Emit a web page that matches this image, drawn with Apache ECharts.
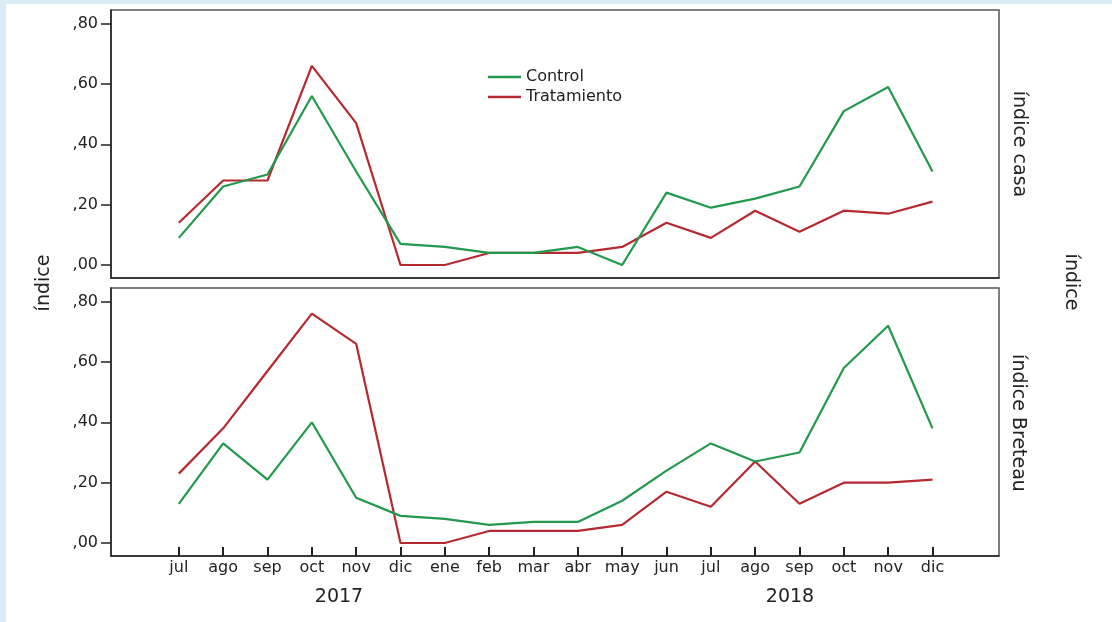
<!DOCTYPE html>
<html>
<head>
<meta charset="utf-8">
<script src="https://cdn.jsdelivr.net/npm/echarts@6/dist/echarts.min.js"></script>
<style>
  html, body { margin: 0; padding: 0; background: #ffffff; }
  #chart { width: 1112px; height: 622px; }
</style>
</head>
<body>
<div id="chart"></div>
<script>
// Months from July 2017 to December 2018
const categories = ['jul','ago','sep','oct','nov','dic','ene','feb','mar','abr','may','jun','jul','ago','sep','oct','nov','dic'];
const years = ['2017', '2018'];
const seriesNames = ['Control', 'Tratamiento'];

// índice casa
const casaControl     = [0.09,0.26,0.30,0.56,0.31,0.07,0.06,0.04,0.04,0.06,0.00,0.24,0.19,0.22,0.26,0.51,0.59,0.31];
const casaTratamiento = [0.14,0.28,0.28,0.66,0.47,0.00,0.00,0.04,0.04,0.04,0.06,0.14,0.09,0.18,0.11,0.18,0.17,0.21];

// índice Breteau
const breteauControl     = [0.13,0.33,0.21,0.40,0.15,0.09,0.08,0.06,0.07,0.07,0.14,0.24,0.33,0.27,0.30,0.58,0.72,0.38];
const breteauTratamiento = [0.23,0.38,0.57,0.76,0.66,0.00,0.00,0.04,0.04,0.04,0.06,0.17,0.12,0.27,0.13,0.20,0.20,0.21];

const yTickValues = [0, 0.2, 0.4, 0.6, 0.8];
const yTickLabels = [',00', ',20', ',40', ',60', ',80'];

const FONT = 'DejaVu Sans';
const GREEN = '#22994c';
const RED = '#b52a30';
const INK = '#222222';

const pairs = arr => arr.map((v, i) => [i, v]);
const xTickValues = categories.map((_, i) => i);

function xAxisFor(gridIndex, showLabels) {
  return {
    type: 'value', gridIndex, position: 'bottom', min: -1.53, max: 18.5,
    splitLine: { show: false },
    axisLine: { show: true, onZero: false, lineStyle: { color: INK, width: 1.5 } },
    axisTick: { show: showLabels, inside: true, length: 9, customValues: xTickValues,
                lineStyle: { color: INK, width: 2 } },
    axisLabel: { show: showLabels, customValues: xTickValues, margin: 4,
                 fontFamily: FONT, fontSize: 16, color: INK,
                 formatter: v => categories[Math.round(v)] }
  };
}

function yAxisFor(gridIndex) {
  return {
    type: 'value', gridIndex, position: 'left', min: -0.043, max: 0.845,
    splitLine: { show: false },
    axisLine: { show: true, onZero: false, lineStyle: { color: INK, width: 1.5 } },
    axisTick: { show: true, length: 10, customValues: yTickValues,
                lineStyle: { color: INK, width: 1.5 } },
    axisLabel: { customValues: yTickValues, margin: 13,
                 fontFamily: FONT, fontSize: 16, color: INK,
                 formatter: v => yTickLabels[yTickValues.findIndex(t => Math.abs(t - v) < 1e-6)] }
  };
}

function lineSeries(name, data, color, idx) {
  return {
    name, type: 'line', data: pairs(data),
    xAxisIndex: idx, yAxisIndex: idx,
    showSymbol: false, symbol: 'none', smooth: false,
    lineStyle: { color, width: 2.2 }, itemStyle: { color },
    z: name === 'Control' ? 3 : 2
  };
}

const sideText = (text, x, y, rot) => ({
  type: 'text', x, y, rotation: rot,
  style: { text, fill: INK, font: '19px "' + FONT + '"', align: 'center', verticalAlign: 'middle' }
});

const chart = echarts.init(document.getElementById('chart'), null, { renderer: 'canvas' });
chart.setOption({
  backgroundColor: '#ffffff',
  animation: false,
  grid: [
    { left: 111, top: 10, width: 888, height: 268, show: true, borderColor: '#555', borderWidth: 1.5 },
    { left: 111, top: 288, width: 888, height: 268, show: true, borderColor: '#555', borderWidth: 1.5 }
  ],
  xAxis: [xAxisFor(0, false), xAxisFor(1, true)],
  yAxis: [yAxisFor(0), yAxisFor(1)],
  legend: {
    data: seriesNames.map(n => ({ name: n, icon: 'rect' })),
    orient: 'vertical', left: 488, top: 69, padding: 0,
    itemWidth: 33, itemHeight: 2.5, itemGap: 4,
    textStyle: { fontFamily: FONT, fontSize: 16, color: INK, padding: [0, 0, 0, 0] }
  },
  series: [
    lineSeries(seriesNames[0], casaControl, GREEN, 0),
    lineSeries(seriesNames[1], casaTratamiento, RED, 0),
    lineSeries(seriesNames[0], breteauControl, GREEN, 1),
    lineSeries(seriesNames[1], breteauTratamiento, RED, 1)
  ],
  graphic: [
    { type: 'rect', shape: { x: 0, y: 0, width: 1112, height: 4 }, style: { fill: '#d9ecf3' }, silent: true },
    { type: 'rect', shape: { x: 0, y: 0, width: 6, height: 622 }, style: { fill: '#d9ecf3' }, silent: true },
    sideText('índice', 44, 283, Math.PI / 2),
    sideText('índice', 1071, 282, -Math.PI / 2),
    sideText('índice casa', 1019, 144, -Math.PI / 2),
    sideText('índice Breteau', 1018, 423, -Math.PI / 2),
    { type: 'text', x: 339, y: 597, style: { text: years[0], fill: INK, font: '19px "' + FONT + '"', align: 'center', verticalAlign: 'middle' } },
    { type: 'text', x: 790, y: 597, style: { text: years[1], fill: INK, font: '19px "' + FONT + '"', align: 'center', verticalAlign: 'middle' } }
  ]
});
</script>
</body>
</html>
